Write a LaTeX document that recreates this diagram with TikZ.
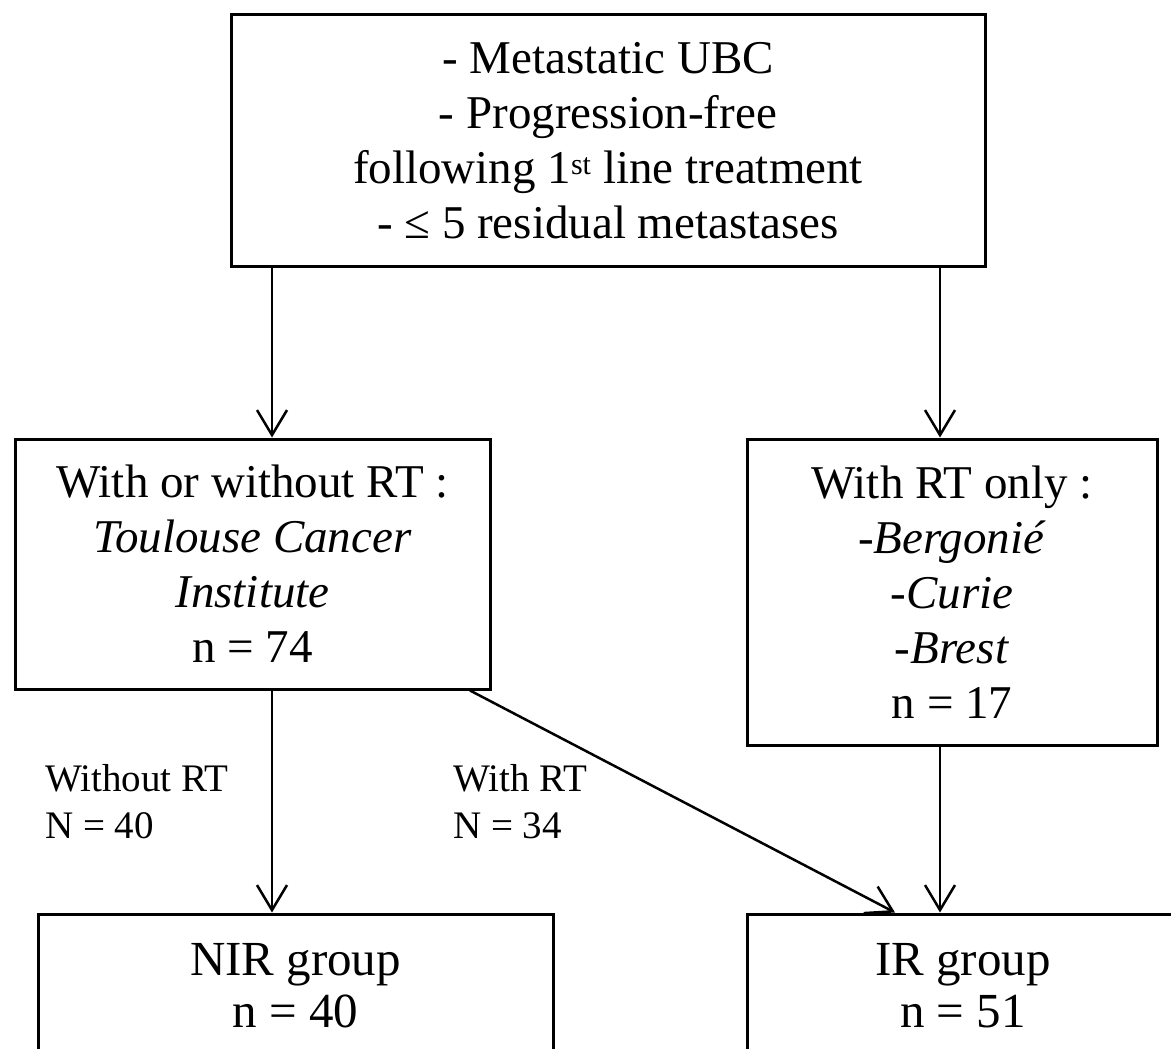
\documentclass[tikz,border=0pt]{standalone}
\usepackage{fontspec}
\setmainfont{Liberation Serif}
\usetikzlibrary{arrows.meta,calc}
\newcommand\mainfs{\fontsize{47}{55}\selectfont}
\newcommand\labfs{\fontsize{39}{47}\selectfont}
\newcommand\grpfs{\fontsize{49}{52}\selectfont}
\begin{document}
\begin{tikzpicture}[x=1pt,y=-1pt,
  box/.style={draw,line width=3pt,inner sep=0pt,align=center,font=\mainfs},
  grp/.style={draw,line width=3pt,inner sep=0pt,align=center,font=\grpfs},
  lab/.style={inner sep=0pt,align=left,font=\labfs,anchor=west},
  arr/.style={line width=2.5pt,-{Straight Barb[length=25pt,width=30pt,line width=2.5pt]}}
]
\useasboundingbox[fill=white] (0,0) rectangle (1171,1049);

\node[box,minimum width=754pt,minimum height=251pt] (top) at (608,140.5)
  {- Metastatic UBC\\- Progression-free\\following 1\textsuperscript{\fontsize{30}{30}\selectfont st} line treatment\\- ≤ 5 residual metastases};
\node[box,minimum width=475pt,minimum height=250pt] (left) at (252.5,564)
  {With or without RT :\\\textit{Toulouse Cancer}\\\textit{Institute}\\n = 74};
\node[box,minimum width=410pt,minimum height=306pt] (right) at (952,592)
  {With RT only :\\-\textit{Bergonié}\\-\textit{Curie}\\-\textit{Brest}\\n = 17};
\node[grp,minimum width=515pt,minimum height=144pt] (nir) at (295.5,986)
  {NIR group\\n = 40};
\node[grp,minimum width=432pt,minimum height=144pt] (ir) at (963,986)
  {IR group\\n = 51};

\node[lab] (l1) at (45,802) {Without RT\\N = 40};
\node[lab] (l2) at (453,802) {With RT\\N = 34};

\coordinate (xa) at (272,0);
\coordinate (xb) at (940,0);
\coordinate (xd1) at (470,0);
\coordinate (xd2) at (895,0);
\draw[arr] (top.south -| xa) -- (left.north -| xa);
\draw[arr] (top.south -| xb) -- (right.north -| xb);
\draw[arr] (left.south -| xa) -- (nir.north -| xa);
\draw[arr] (right.south -| xb) -- (ir.north -| xb);
\draw[arr] (left.south -| xd1) -- (ir.north -| xd2);
\end{tikzpicture}
\end{document}
